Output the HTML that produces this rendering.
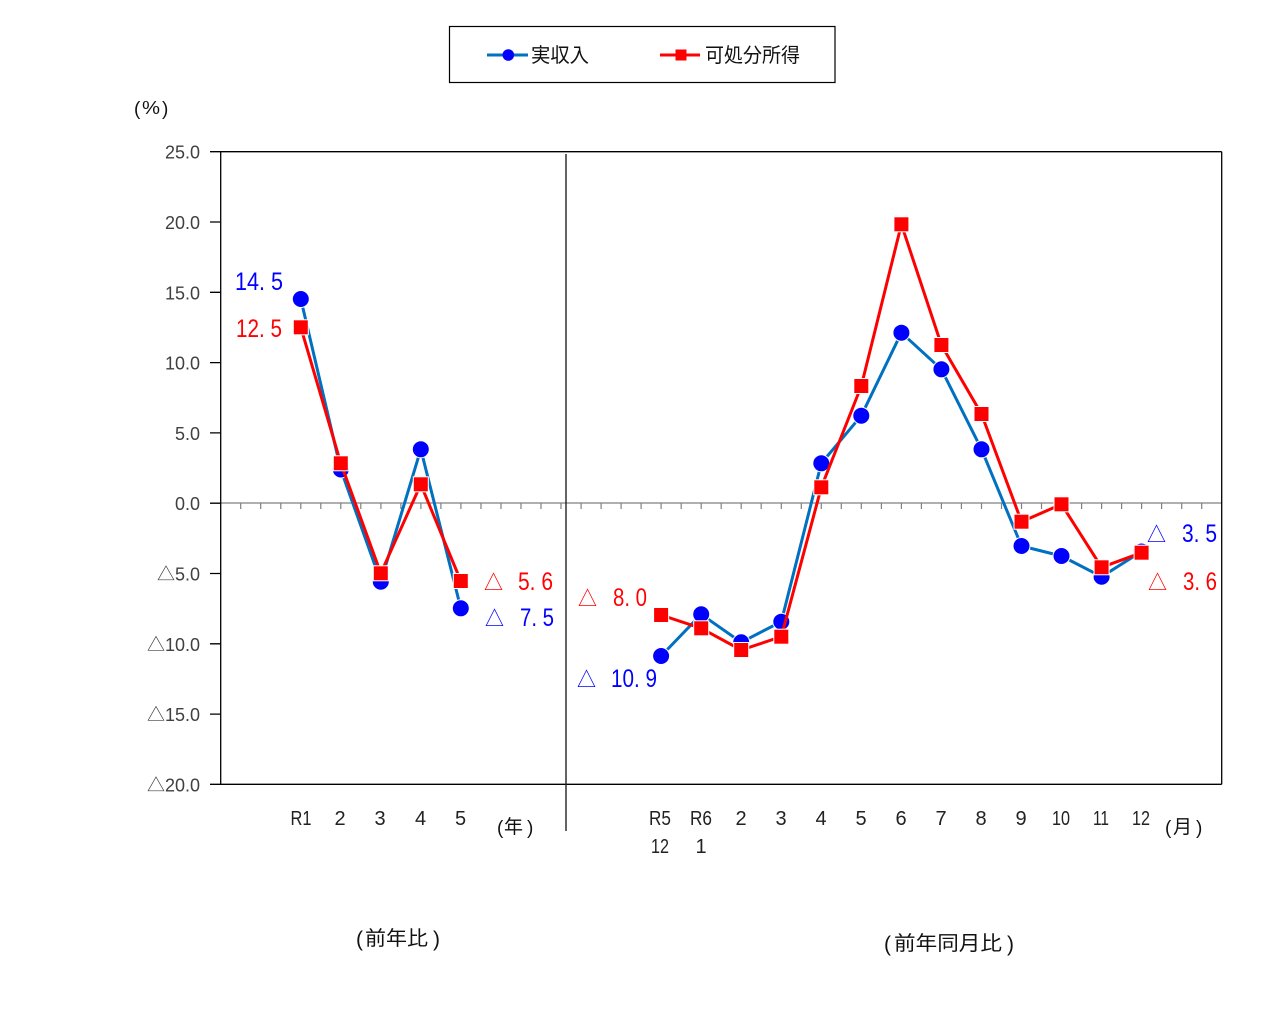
<!DOCTYPE html>
<html>
<head>
<meta charset="utf-8">
<style>
html,body{margin:0;padding:0;background:#fff;}
svg{display:block;}
text{font-family:"Liberation Sans","Noto Sans CJK JP",sans-serif;}
.yt{font-size:18px;fill:#404040;text-anchor:end;}
.xl{font-size:20px;fill:#222;text-anchor:middle;}
.cj{font-family:"Noto Sans CJK JP","Liberation Sans",sans-serif;fill:#111;}
.pr{font-family:"Liberation Sans",sans-serif;fill:#111;}
</style>
</head>
<body>
<svg width="1274" height="1017" viewBox="0 0 1274 1017" xmlns="http://www.w3.org/2000/svg">
<rect x="0" y="0" width="1274" height="1017" fill="#fff"/>

<!-- Legend -->
<rect x="449.5" y="26.5" width="385.5" height="56" fill="#fff" stroke="#000" stroke-width="1.2"/>
<line x1="487" y1="55" x2="528" y2="55" stroke="#0070C0" stroke-width="3"/>
<circle cx="508.3" cy="55" r="5.8" fill="#0000FF"/>
<text class="cj" x="531" y="62" font-size="20" textLength="58" lengthAdjust="spacingAndGlyphs">実収入</text>
<line x1="660" y1="55" x2="700" y2="55" stroke="#FF0000" stroke-width="3"/>
<rect x="675.5" y="49.5" width="11" height="11" fill="#FF0000"/>
<text class="cj" x="705" y="62" font-size="20" textLength="95" lengthAdjust="spacingAndGlyphs">可処分所得</text>

<!-- (%) -->
<text class="pr" x="134" y="115" font-size="19">(</text>
<text class="pr" x="142" y="114" font-size="18" textLength="18" lengthAdjust="spacingAndGlyphs">%</text>
<text class="pr" x="162" y="115" font-size="19">)</text>

<!-- Y tick labels -->
<text class="yt" x="200" y="158.7">25.0</text>
<text class="yt" x="200" y="229">20.0</text>
<text class="yt" x="200" y="299.3">15.0</text>
<text class="yt" x="200" y="369.6">10.0</text>
<text class="yt" x="200" y="439.9">5.0</text>
<text class="yt" x="200" y="510.2">0.0</text>
<text class="yt" x="200" y="580.5">△5.0</text>
<text class="yt" x="200" y="650.8">△10.0</text>
<text class="yt" x="200" y="721.1">△15.0</text>
<text class="yt" x="200" y="791.4">△20.0</text>

<!-- Zero line and ticks -->
<line x1="220.5" y1="503" x2="1221.5" y2="503" stroke="#808080" stroke-width="1.2"/>
<path d="M240.7 503v6M260.7 503v6M280.8 503v6M300.8 503v6M320.8 503v6M340.8 503v6M360.8 503v6M380.9 503v6M400.9 503v6M420.9 503v6M440.9 503v6M460.9 503v6M481 503v6M501 503v6M521 503v6M541 503v6M561 503v6M581.1 503v6M601.1 503v6M621.1 503v6M641.1 503v6M661.1 503v6M681.2 503v6M701.2 503v6M721.2 503v6M741.2 503v6M761.2 503v6M781.3 503v6M801.3 503v6M821.3 503v6M841.3 503v6M861.3 503v6M881.4 503v6M901.4 503v6M921.4 503v6M941.4 503v6M961.4 503v6M981.5 503v6M1001.5 503v6M1021.5 503v6M1041.5 503v6M1061.5 503v6M1081.6 503v6M1101.6 503v6M1121.6 503v6M1141.6 503v6M1161.6 503v6M1181.7 503v6M1201.7 503v6" stroke="#808080" stroke-width="1.2" fill="none"/>

<!-- Plot frame -->
<line x1="210" y1="151.7" x2="1221.7" y2="151.7" stroke="#000" stroke-width="1.3"/>
<line x1="210" y1="784.3" x2="1221.7" y2="784.3" stroke="#000" stroke-width="1.3"/>
<line x1="220.7" y1="151.7" x2="220.7" y2="784.3" stroke="#000" stroke-width="1.3"/>
<line x1="1221.7" y1="151.7" x2="1221.7" y2="784.3" stroke="#000" stroke-width="1.3"/>
<path d="M210 222H220.7M210 292.3H220.7M210 362.6H220.7M210 432.9H220.7M210 503.2H220.7M210 573.5H220.7M210 643.8H220.7M210 714.1H220.7" stroke="#000" stroke-width="1.3"/>

<!-- Divider -->
<line x1="566" y1="154" x2="566" y2="831" stroke="#222" stroke-width="1.4"/>

<!-- Blue series -->
<polyline points="300.8,299 340.8,469.5 380.8,581.7 420.8,449.3 460.8,608.3" fill="none" stroke="#0070C0" stroke-width="3" stroke-linejoin="round"/>
<polyline points="661.1,656 701.2,614.3 741.2,642.3 781.3,621.7 821.3,463.3 861.3,415.7 901.4,332.7 941.4,369.3 981.5,449.3 1021.5,546 1061.5,556 1101.6,576.7 1141.6,551.5" fill="none" stroke="#0070C0" stroke-width="3" stroke-linejoin="round"/>
<g fill="#0000FF" stroke="#fff" stroke-width="1">
<circle cx="300.8" cy="299" r="8.5"/>
<circle cx="340.8" cy="469.5" r="8.5"/>
<circle cx="380.8" cy="581.7" r="8.5"/>
<circle cx="420.8" cy="449.3" r="8.5"/>
<circle cx="460.8" cy="608.3" r="8.5"/>
<circle cx="661.1" cy="656" r="8.5"/>
<circle cx="701.2" cy="614.3" r="8.5"/>
<circle cx="741.2" cy="642.3" r="8.5"/>
<circle cx="781.3" cy="621.7" r="8.5"/>
<circle cx="821.3" cy="463.3" r="8.5"/>
<circle cx="861.3" cy="415.7" r="8.5"/>
<circle cx="901.4" cy="332.7" r="8.5"/>
<circle cx="941.4" cy="369.3" r="8.5"/>
<circle cx="981.5" cy="449.3" r="8.5"/>
<circle cx="1021.5" cy="546" r="8.5"/>
<circle cx="1061.5" cy="556" r="8.5"/>
<circle cx="1101.6" cy="576.7" r="8.5"/>
<circle cx="1141.6" cy="551.5" r="8.5"/>
</g>

<!-- Red series -->
<polyline points="300.8,327.3 340.8,463.3 380.8,573.3 420.8,484.3 460.8,581" fill="none" stroke="#FF0000" stroke-width="3" stroke-linejoin="round"/>
<polyline points="661.1,615 701.2,628.3 741.2,650 781.3,636.7 821.3,487.3 861.3,386 901.4,224.3 941.4,345 981.5,414 1021.5,521.7 1061.5,504.3 1101.6,567.3 1141.6,552.7" fill="none" stroke="#FF0000" stroke-width="3" stroke-linejoin="round"/>
<g fill="#FF0000" stroke="#fff" stroke-width="1">
<rect x="293.3" y="319.8" width="15" height="15"/>
<rect x="333.3" y="455.8" width="15" height="15"/>
<rect x="373.3" y="565.8" width="15" height="15"/>
<rect x="413.3" y="476.8" width="15" height="15"/>
<rect x="453.3" y="573.5" width="15" height="15"/>
<rect x="653.6" y="607.5" width="15" height="15"/>
<rect x="693.7" y="620.8" width="15" height="15"/>
<rect x="733.7" y="642.5" width="15" height="15"/>
<rect x="773.8" y="629.2" width="15" height="15"/>
<rect x="813.8" y="479.8" width="15" height="15"/>
<rect x="853.8" y="378.5" width="15" height="15"/>
<rect x="893.9" y="216.8" width="15" height="15"/>
<rect x="933.9" y="337.5" width="15" height="15"/>
<rect x="974" y="406.5" width="15" height="15"/>
<rect x="1014" y="514.2" width="15" height="15"/>
<rect x="1054" y="496.8" width="15" height="15"/>
<rect x="1094.1" y="559.8" width="15" height="15"/>
<rect x="1134.1" y="545.2" width="15" height="15"/>
</g>

<!-- Data labels -->
<g font-size="25">
<text x="235" y="290" fill="#0000FF" textLength="48" lengthAdjust="spacingAndGlyphs">14. 5</text>
<text x="236" y="337" fill="#FF0000" textLength="46" lengthAdjust="spacingAndGlyphs">12. 5</text>

<text x="484" y="590" fill="#FF0000" font-size="21" textLength="19" lengthAdjust="spacingAndGlyphs">△</text>
<text x="518" y="590" fill="#FF0000" textLength="35" lengthAdjust="spacingAndGlyphs">5. 6</text>

<text x="485" y="626" fill="#0000FF" font-size="21" textLength="19" lengthAdjust="spacingAndGlyphs">△</text>
<text x="520" y="626" fill="#0000FF" textLength="34" lengthAdjust="spacingAndGlyphs">7. 5</text>

<text x="578" y="606" fill="#FF0000" font-size="21" textLength="19" lengthAdjust="spacingAndGlyphs">△</text>
<text x="613" y="606" fill="#FF0000" textLength="34" lengthAdjust="spacingAndGlyphs">8. 0</text>

<text x="577" y="687" fill="#0000FF" font-size="21" textLength="19" lengthAdjust="spacingAndGlyphs">△</text>
<text x="611" y="687" fill="#0000FF" textLength="46" lengthAdjust="spacingAndGlyphs">10. 9</text>

<text x="1147" y="542" fill="#0000FF" font-size="21" textLength="19" lengthAdjust="spacingAndGlyphs">△</text>
<text x="1182" y="542" fill="#0000FF" textLength="35" lengthAdjust="spacingAndGlyphs">3. 5</text>

<text x="1148" y="590" fill="#FF0000" font-size="21" textLength="19" lengthAdjust="spacingAndGlyphs">△</text>
<text x="1183" y="590" fill="#FF0000" textLength="34" lengthAdjust="spacingAndGlyphs">3. 6</text>
</g>

<!-- X labels: years -->
<text class="xl" x="301" y="825" textLength="21" lengthAdjust="spacingAndGlyphs">R1</text>
<text class="xl" x="340" y="825">2</text>
<text class="xl" x="380" y="825">3</text>
<text class="xl" x="420.5" y="825">4</text>
<text class="xl" x="460.5" y="825">5</text>
<text class="pr" x="497" y="834" font-size="19">(</text>
<text class="cj" x="504" y="833" font-size="19">年</text>
<text class="pr" x="527" y="834" font-size="19">)</text>

<!-- X labels: months -->
<text class="xl" x="660" y="825" textLength="22" lengthAdjust="spacingAndGlyphs">R5</text>
<text class="xl" x="660" y="853" textLength="18" lengthAdjust="spacingAndGlyphs">12</text>
<text class="xl" x="701" y="825" textLength="22" lengthAdjust="spacingAndGlyphs">R6</text>
<text class="xl" x="701" y="853">1</text>
<text class="xl" x="741" y="825">2</text>
<text class="xl" x="781" y="825">3</text>
<text class="xl" x="821" y="825">4</text>
<text class="xl" x="861" y="825">5</text>
<text class="xl" x="901" y="825">6</text>
<text class="xl" x="941" y="825">7</text>
<text class="xl" x="981" y="825">8</text>
<text class="xl" x="1021" y="825">9</text>
<text class="xl" x="1061" y="825" textLength="18" lengthAdjust="spacingAndGlyphs">10</text>
<text class="xl" x="1101" y="825" textLength="16" lengthAdjust="spacingAndGlyphs">11</text>
<text class="xl" x="1141" y="825" textLength="18" lengthAdjust="spacingAndGlyphs">12</text>
<text class="pr" x="1165" y="834" font-size="19">(</text>
<text class="cj" x="1173" y="833" font-size="19">月</text>
<text class="pr" x="1196" y="834" font-size="19">)</text>

<!-- Bottom captions -->
<text class="pr" x="356" y="946" font-size="21">(</text>
<text class="cj" x="365" y="945" font-size="20" textLength="63" lengthAdjust="spacingAndGlyphs">前年比</text>
<text class="pr" x="433" y="946" font-size="21">)</text>
<text class="pr" x="884" y="951" font-size="21">(</text>
<text class="cj" x="894" y="950" font-size="20" textLength="108" lengthAdjust="spacingAndGlyphs">前年同月比</text>
<text class="pr" x="1007" y="951" font-size="21">)</text>
</svg>
</body>
</html>
